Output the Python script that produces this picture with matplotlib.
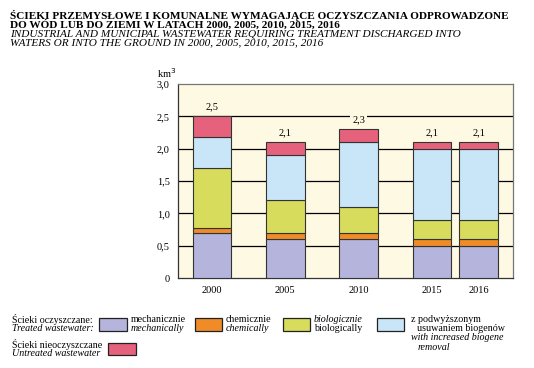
import matplotlib
matplotlib.use('Agg')
import matplotlib.pyplot as plt
from matplotlib.patches import Rectangle

# data (km3)
years = ['2000', '2005', '2010', '2015', '2016']
mechanical = [0.70, 0.60, 0.60, 0.50, 0.50]
chemical = [0.08, 0.10, 0.10, 0.10, 0.10]
biological = [0.92, 0.50, 0.40, 0.30, 0.30]
increased = [0.48, 0.70, 1.00, 1.10, 1.10]
untreated = [0.32, 0.20, 0.20, 0.10, 0.10]
totals = ['2,5', '2,1', '2,3', '2,1', '2,1']
y_ticks = [0, 0.5, 1.0, 1.5, 2.0, 2.5, 3.0]
y_tick_labels = ['0', '0,5', '1,0', '1,5', '2,0', '2,5', '3,0']

colors = {
    'mech': '#b4b4dc',
    'chem': '#f08c28',
    'bio': '#d8dc5c',
    'incr': '#c8e6f8',
    'untr': '#e6627c',
}
bg = '#fdf9e2'
serif = ['Liberation Serif', 'DejaVu Serif']
plt.rcParams['font.family'] = serif

fig = plt.figure(figsize=(5.34, 3.68), dpi=100)
W, H = 534, 368


def fx(px):
    return px / W


def fy(py):
    return 1 - py / H


# ===== titles =====
fig.text(fx(10), fy(10), 'ŚCIEKI PRZEMYSŁOWE I KOMUNALNE WYMAGAJĄCE OCZYSZCZANIA ODPROWADZONE\n'
         'DO WÓD LUB DO ZIEMI W LATACH 2000, 2005, 2010, 2015, 2016',
         fontsize=8.15, fontweight='bold', va='top', ha='left', linespacing=0.8)
fig.text(fx(10), fy(29), 'INDUSTRIAL AND MUNICIPAL WASTEWATER REQUIRING TREATMENT DISCHARGED INTO\n'
         'WATERS OR INTO THE GROUND IN 2000, 2005, 2010, 2015, 2016',
         fontsize=8.15, style='italic', va='top', ha='left', linespacing=0.98)

# ===== chart =====
ax = fig.add_axes([fx(178), fy(278), fx(513) - fx(178), fy(84) - fy(278)])
ax.set_facecolor(bg)
x_pos = [0, 1, 2, 3, 3.64]
width = 0.53

ax.set_xlim(-0.464, 4.106)
ax.set_ylim(0, 3.0)
for g in y_ticks[1:-1]:
    ax.axhline(g, color='black', lw=0.9, zorder=1)

bottom = [0.0] * len(years)
for vals, key in [(mechanical, 'mech'), (chemical, 'chem'), (biological, 'bio'),
                  (increased, 'incr'), (untreated, 'untr')]:
    ax.bar(x_pos, vals, width=width, bottom=bottom, color=colors[key],
           edgecolor='#333333', linewidth=0.8, zorder=3)
    bottom = [b + v for b, v in zip(bottom, vals)]

for xp, top, lab in zip(x_pos, bottom, totals):
    ax.text(xp, top + 0.15, lab, ha='center', va='center', fontsize=7.5, zorder=4,
            bbox=dict(facecolor=bg, edgecolor='none', pad=1.5))

ax.set_xticks(x_pos)
ax.set_xticklabels(years, fontsize=7.5)
ax.set_yticks(y_ticks)
ax.set_yticklabels(y_tick_labels, fontsize=7.5)
ax.tick_params(length=0, pad=6)
for s in ax.spines.values():
    s.set_color('#333333')
    s.set_linewidth(0.9)
ax.spines['top'].set_color('#777777')
ax.spines['right'].set_color('#777777')

fig.text(fx(157), fy(73), 'km$^3$', fontsize=7.5, ha='left', va='center')

# ===== legend =====
def box(x0, y0, x1, y1, color):
    fig.add_artist(Rectangle((fx(x0), fy(y1)), fx(x1) - fx(x0), fy(y0) - fy(y1),
                             transform=fig.transFigure, facecolor=color,
                             edgecolor='#222222', linewidth=0.9))


fs = 7.2
fig.text(fx(12), fy(319.5), 'Ścieki oczyszczane:', fontsize=fs, va='center')
fig.text(fx(12), fy(328.5), 'Treated wastewater:', fontsize=fs, va='center', style='italic')
fig.text(fx(12), fy(344.5), 'Ścieki nieoczyszczane', fontsize=fs, va='center')
fig.text(fx(12), fy(353.5), 'Untreated wastewater', fontsize=fs, va='center', style='italic')

box(99, 318, 127, 331, colors['mech'])
box(195, 318, 222, 331, colors['chem'])
box(283, 318, 310, 331, colors['bio'])
box(377, 318, 404, 331, colors['incr'])
box(108, 343, 136, 355, colors['untr'])

fig.text(fx(131), fy(319.5), 'mechanicznie', fontsize=fs, va='center')
fig.text(fx(131), fy(328.5), 'mechanically', fontsize=fs, va='center', style='italic')
fig.text(fx(226), fy(319.5), 'chemicznie', fontsize=fs, va='center')
fig.text(fx(226), fy(328.5), 'chemically', fontsize=fs, va='center', style='italic')
fig.text(fx(314), fy(319.5), 'biologicznie', fontsize=fs, va='center', style='italic')
fig.text(fx(314), fy(328.5), 'biologically', fontsize=fs, va='center')
fig.text(fx(411), fy(319.5), 'z podwyższonym', fontsize=fs, va='center')
fig.text(fx(417), fy(328.5), 'usuwaniem biogenów', fontsize=fs, va='center')
fig.text(fx(411), fy(338), 'with increased biogene', fontsize=fs, va='center', style='italic')
fig.text(fx(418), fy(347), 'removal', fontsize=fs, va='center', style='italic')

fig.savefig('out.png', dpi=100, facecolor='white')
